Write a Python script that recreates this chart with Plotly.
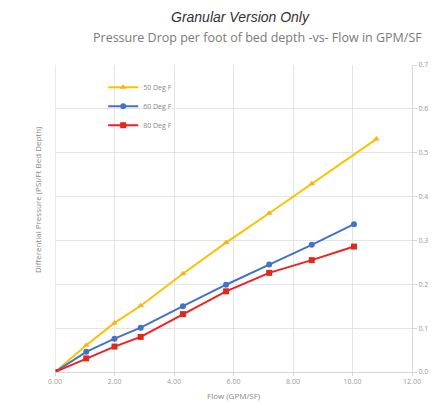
import plotly.graph_objects as go

flow_50 = [0.0, 1.05, 2.0, 2.88, 4.3, 5.75, 7.2, 8.63, 10.8]
dp_50 = [0.0, 0.061, 0.112, 0.151, 0.224, 0.295, 0.362, 0.429, 0.531]

flow_60 = [0.0, 1.05, 2.0, 2.88, 4.3, 5.75, 7.2, 8.63, 10.05]
dp_60 = [0.0, 0.046, 0.076, 0.101, 0.150, 0.199, 0.245, 0.290, 0.337]

flow_80 = [0.0, 1.05, 2.0, 2.88, 4.3, 5.75, 7.2, 8.63, 10.05]
dp_80 = [0.0, 0.031, 0.058, 0.080, 0.132, 0.184, 0.226, 0.255, 0.286]

series_names = ["50 Deg F", "60 Deg F", "80 Deg F"]
x_ticks = [0, 2, 4, 6, 8, 10, 12]
x_tick_labels = ["0.00", "2.00", "4.00", "6.00", "8.00", "10.00", "12.00"]
y_ticks = [0.0, 0.1, 0.2, 0.3, 0.4, 0.5, 0.6, 0.7]
y_tick_labels = ["0.0", "0.1", "0.2", "0.3", "0.4", "0.5", "0.6", "0.7"]

fig = go.Figure()
fig.add_trace(go.Scatter(x=flow_50, y=dp_50, name=series_names[0], mode="lines+markers",
                         line=dict(color="#FFC000", width=2),
                         marker=dict(symbol="triangle-up", size=6, color="#F5B324")))
fig.add_trace(go.Scatter(x=flow_60, y=dp_60, name=series_names[1], mode="lines+markers",
                         line=dict(color="#4472C4", width=2),
                         marker=dict(symbol="circle", size=6, color="#4472C4")))
fig.add_trace(go.Scatter(x=flow_80, y=dp_80, name=series_names[2], mode="lines+markers",
                         line=dict(color="#F02020", width=2),
                         marker=dict(symbol="square", size=6, color="#E0281E")))

grid = "#e4e4e4"
fig.update_layout(
    width=441, height=404,
    margin=dict(l=55, r=29, t=65, b=32, autoexpand=False),
    paper_bgcolor="white", plot_bgcolor="white",
    font=dict(family="Open Sans, sans-serif", color="#888"),
    showlegend=True,
    legend=dict(x=0.135, y=0.975, xanchor="left", yanchor="top",
                bgcolor="rgba(0,0,0,0)", font=dict(size=7, color="#888"),
                itemwidth=30, tracegroupgap=0),
    xaxis=dict(range=[0, 12], tickvals=x_ticks, ticktext=x_tick_labels,
               showgrid=True, gridcolor=grid, gridwidth=1, automargin=False,
               zeroline=False, showline=True, linecolor="#d8d8d8",
               ticks="outside", ticklen=3, tickcolor="#d8d8d8",
               tickfont=dict(size=7, color="#999")),
    yaxis=dict(range=[0, 0.7], tickvals=y_ticks, ticktext=y_tick_labels,
               side="right", showgrid=True, gridcolor=grid, gridwidth=1, automargin=False,
               zeroline=False, showline=True, linecolor="#d8d8d8",
               ticks="outside", ticklen=4, tickcolor="#d8d8d8",
               tickfont=dict(size=7, color="#999")),
)

fig.add_shape(type="line", xref="x", yref="paper", x0=0, x1=0, y0=0, y1=1,
              line=dict(color="#d8d8d8", width=1))

fig.add_annotation(text="<i>Granular Version Only</i>", xref="paper", yref="paper",
                   x=(240 - 55) / 357, y=1 + (65 - 17) / 307, showarrow=False,
                   xanchor="center", yanchor="middle",
                   font=dict(size=14, color="#333", family="Liberation Sans, Arial, sans-serif"))
fig.add_annotation(text="Pressure Drop per foot of bed depth -vs- Flow in GPM/SF",
                   xref="paper", yref="paper",
                   x=(257 - 55) / 357, y=1 + (65 - 38) / 307, showarrow=False,
                   xanchor="center", yanchor="middle",
                   font=dict(size=12.5, color="#7a7a7a", family="Open Sans, sans-serif"))
fig.add_annotation(text="Differential Pressure (PSI/Ft Bed Depth)", xref="paper", yref="paper",
                   x=(37 - 55) / 357, y=(372 - 200) / 307, showarrow=False, textangle=-90,
                   xanchor="center", yanchor="middle",
                   font=dict(size=8, color="#888"))
fig.add_annotation(text="Flow (GPM/SF)", xref="paper", yref="paper",
                   x=(234 - 55) / 357, y=-(395 - 372) / 307, showarrow=False,
                   xanchor="center", yanchor="middle",
                   font=dict(size=8, color="#888"))

fig.write_html("out.html", config={"displayModeBar": False},
               post_script="document.body.style.margin='0';")
